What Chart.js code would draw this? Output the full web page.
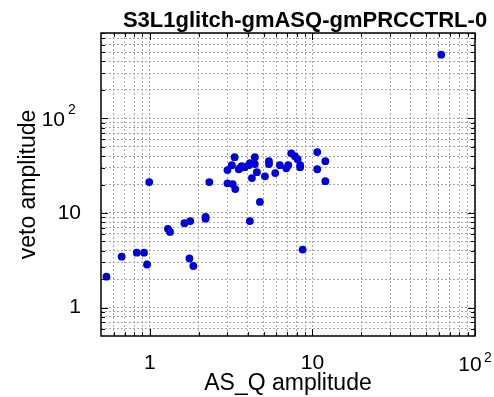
<!DOCTYPE html>
<html>
<head>
<meta charset="utf-8">
<script src="https://cdn.jsdelivr.net/npm/chart.js@4"></script>
<style>
  body { margin: 0; background: #fff; }
</style>
</head>
<body>
<canvas id="scatter-chart" width="494" height="397"></canvas>
<script>
// Glitch scatter data
const chartTitle = "S3L1glitch-gmASQ-gmPRCCTRL-0";
const asqAmplitude = [
  0.54, 0.67, 0.83, 0.92, 0.96, 0.99, 1.29, 1.33, 1.63, 1.77,
  2.2, 2.2, 1.75, 1.85, 2.32, 3.0, 3.0, 3.19, 3.32, 3.23,
  3.35, 3.52, 3.57, 3.67, 3.83, 4.06, 4.12, 4.42, 4.42, 4.55,
  4.24, 4.75, 4.12, 5.1, 5.4, 5.4, 5.9, 6.3, 6.9, 7.1,
  7.4, 7.8, 8.1, 8.4, 8.4, 8.7, 10.7, 10.7, 12.0, 12.0,
  62,
];
const vetoAmplitude = [
  2.12, 3.45, 3.8, 3.8, 2.85, 21.2, 6.8, 6.3, 7.8, 8.2,
  9.1, 8.7, 3.3, 2.75, 21.2, 20.6, 28.4, 32, 38.9, 20.2,
  17.9, 29, 29.7, 31.2, 30.5, 32, 33.6, 38.9, 32.9, 27.0,
  23.4, 13.1, 8.2, 24.4, 35.3, 32.9, 26.4, 32, 29.7, 32,
  42.7, 39.8, 37, 32, 30.5, 4.1, 44, 29, 35.3, 21.7,
  472,
];

const xRange = [0.5, 100];
const yRange = [0.5, 800];
// plain labels go through Chart.js, power labels (10^2) are drawn with a raised exponent
const xTickValues = [1, 10];
const xTickLabels = ["1", "10"];
const yTickValues = [1, 10];
const yTickLabels = ["1", "10"];
const powerTicks = [100];
const powerExponents = ["2"];
const decades = [0.1, 1, 10, 100];

const font = "'Liberation Sans', Arial, Helvetica, sans-serif";

// 1..9 x 10^n grid inside the range
function logGrid(min, max) {
  const out = [];
  decades.forEach((d) => {
    for (let m = 1; m <= 9; m++) {
      const v = d * m;
      if (v > min && v <= max) out.push(v);
    }
  });
  return out;
}

function labelFor(values, labels) {
  return (value) => {
    const i = values.indexOf(value);
    return i < 0 ? "" : labels[i];
  };
}

function isMajor(v) {
  return xTickValues.includes(v) || powerTicks.includes(v);
}

// frame, inward tick marks, power labels and title
const framePlugin = {
  id: "frame",
  afterDraw(chart) {
    const { ctx, chartArea: a, scales } = chart;
    ctx.save();
    ctx.setLineDash([]);
    ctx.strokeStyle = "#000";
    ctx.lineWidth = 1;
    scales.x.ticks.forEach((t) => {
      const px = Math.round(scales.x.getPixelForValue(t.value)) + 0.5;
      const len = isMajor(t.value) ? 7 : 4;
      ctx.beginPath();
      ctx.moveTo(px, a.bottom);
      ctx.lineTo(px, a.bottom - len);
      ctx.moveTo(px, a.top);
      ctx.lineTo(px, a.top + len);
      ctx.stroke();
    });
    scales.y.ticks.forEach((t) => {
      const py = Math.round(scales.y.getPixelForValue(t.value)) + 0.5;
      const len = isMajor(t.value) ? 7 : 4;
      ctx.beginPath();
      ctx.moveTo(a.left, py);
      ctx.lineTo(a.left + len, py);
      ctx.moveTo(a.right, py);
      ctx.lineTo(a.right - len, py);
      ctx.stroke();
    });
    ctx.lineWidth = 1.5;
    ctx.strokeRect(a.left, a.top, a.right - a.left, a.bottom - a.top);

    ctx.fillStyle = "#000";
    ctx.textBaseline = "alphabetic";
    powerTicks.forEach((v, i) => {
      const px = scales.x.getPixelForValue(v);
      const py = scales.y.getPixelForValue(v);
      ctx.font = "21px " + font;
      ctx.textAlign = "center";
      ctx.fillText("10", px - 5, 371);
      ctx.textAlign = "right";
      ctx.fillText("10", 65, py + 7.5);
      ctx.font = "14px " + font;
      ctx.textAlign = "left";
      ctx.fillText(powerExponents[i], px + 9, 362);
      ctx.fillText(powerExponents[i], 68, py - 4);
    });

    ctx.font = "bold 22px " + font;
    ctx.textAlign = "center";
    ctx.fillText(chartTitle, 305, 27);
    ctx.restore();
  },
};

const scatterCtx = document.getElementById("scatter-chart").getContext("2d");
new Chart(scatterCtx, {
  type: "scatter",
  data: {
    datasets: [
      {
        label: "glitches",
        data: asqAmplitude.map((x, i) => ({ x: x, y: vetoAmplitude[i] })),
        backgroundColor: "rgb(0, 0, 220)",
        borderWidth: 0,
        pointRadius: 3.9,
      },
    ],
  },
  options: {
    responsive: false,
    animation: false,
    layout: { padding: { left: 0, right: 19, top: 33, bottom: 0 } },
    plugins: {
      legend: { display: false },
      tooltip: { enabled: false },
    },
    scales: {
      x: {
        type: "logarithmic",
        min: xRange[0],
        max: xRange[1],
        afterBuildTicks: (scale) => {
          scale.ticks = logGrid(xRange[0], xRange[1]).map((v) => ({ value: v }));
        },
        afterFit: (scale) => {
          scale.height = 61;
          scale.paddingLeft = 0;
          scale.paddingRight = 0;
        },
        grid: { color: "#a8a8a8", lineWidth: 1, drawTicks: false },
        border: { display: false, dash: [2, 2] },
        ticks: {
          autoSkip: false,
          maxRotation: 0,
          padding: 15,
          color: "#000",
          font: { family: font, size: 21 },
          callback: labelFor(xTickValues, xTickLabels),
        },
        title: {
          display: true,
          text: "AS_Q amplitude",
          color: "#000",
          font: { family: font, size: 23 },
          padding: { top: 0, bottom: 0 },
        },
      },
      y: {
        type: "logarithmic",
        min: yRange[0],
        max: yRange[1],
        afterBuildTicks: (scale) => {
          scale.ticks = logGrid(yRange[0], yRange[1]).map((v) => ({ value: v }));
        },
        afterFit: (scale) => {
          scale.width = 101;
        },
        grid: { color: "#a8a8a8", lineWidth: 1, drawTicks: false },
        border: { display: false, dash: [2, 2] },
        ticks: {
          autoSkip: false,
          padding: 20,
          color: "#000",
          font: { family: font, size: 21 },
          callback: labelFor(yTickValues, yTickLabels),
        },
        title: {
          display: true,
          text: "veto amplitude",
          color: "#000",
          font: { family: font, size: 23 },
          padding: { top: 15, bottom: 0 },
        },
      },
    },
  },
  plugins: [framePlugin],
});
</script>
</body>
</html>
